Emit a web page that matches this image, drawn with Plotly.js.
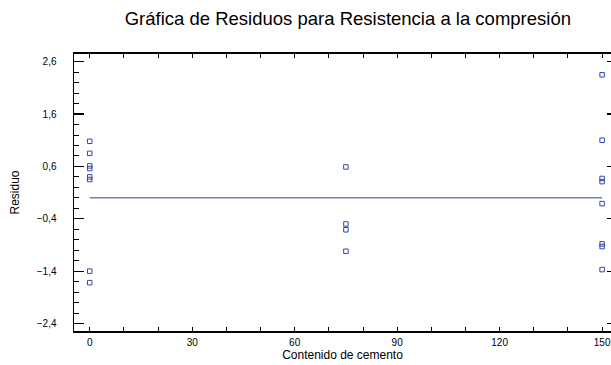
<!DOCTYPE html>
<html>
<head>
<meta charset="utf-8">
<script src="https://cdn.plot.ly/plotly-3.0.1.min.js"></script>
<style>html,body{margin:0;padding:0;background:#fff;}#chart{width:611px;height:365px;}</style>
</head>
<body>
<div id="chart"></div>
<script>
// Residuals by cement content
const cemento = [0, 0, 0, 0, 0, 0, 0, 0,
                 75, 75, 75, 75,
                 150, 150, 150, 150, 150, 150, 150, 150];
const residuos = [1.08, 0.85, 0.61, 0.56, 0.40, 0.35, -1.40, -1.62,
                  0.59, -0.50, -0.61, -1.02,
                  2.35, 1.10, 0.37, 0.31, -0.11, -0.88, -0.93, -1.37];
const lineaX = [0, 150];
const lineaY = [0, 0];

const traces = [
  {x: lineaX, y: lineaY, type: 'scatter', mode: 'lines',
   line: {color: '#6c80c4', width: 1.5}, hoverinfo: 'skip'},
  {x: cemento, y: residuos, type: 'scatter', mode: 'markers',
   marker: {symbol: 'square-open', size: 4.5, color: '#3347a8', line: {width: 1, color: '#3347a8'}}},
  {x: lineaX, y: lineaY, yaxis: 'y2', type: 'scatter', mode: 'none', hoverinfo: 'skip'}
];

const font = {family: 'Liberation Sans, Arial, sans-serif', color: '#000'};
const yRange = [-2.543, 2.747];

const layout = {
  width: 611, height: 365,
  margin: {l: 74, r: 0, t: 54, b: 34},
  paper_bgcolor: '#fff', plot_bgcolor: '#fff',
  showlegend: false,
  separators: ',.',
  font: font,
  title: {text: 'Gráfica de Residuos para Resistencia a la compresión',
          font: {family: font.family, size: 18.5, color: '#000'},
          x: 0.51, xref: 'paper', xanchor: 'center',
          y: 0.95, yref: 'container', yanchor: 'middle'},
  xaxis: {
    range: [-4.6, 152.6], tickmode: 'linear', tick0: 0, dtick: 30,
    ticks: 'inside', ticklen: 4, tickwidth: 1.2, tickcolor: '#000',
    minor: {dtick: 10, ticks: 'inside', ticklen: 3, tickwidth: 1, tickcolor: '#000'},
    showline: true, linewidth: 2, linecolor: '#000', mirror: 'allticks',
    showgrid: false, zeroline: false,
    tickfont: {family: font.family, size: 10, color: '#000'},
    ticklabelstandoff: 1,
    title: {text: 'Contenido de cemento', standoff: 1,
            font: {family: font.family, size: 12, color: '#000'}}
  },
  yaxis: {
    range: yRange, tickmode: 'linear', tick0: 0.6, dtick: 1,
    ticks: 'inside', ticklen: 10, tickwidth: 1.2, tickcolor: '#000',
    minor: {dtick: 0.2, tick0: 0.6, ticks: 'inside', ticklen: 5, tickwidth: 1, tickcolor: '#000'},
    showline: true, linewidth: 1.5, linecolor: '#000', mirror: false,
    showgrid: false, zeroline: false,
    tickformat: '.1f',
    tickfont: {family: font.family, size: 10, color: '#000'},
    ticklabelstandoff: 14,
    title: {text: 'Residuo', standoff: 14,
            font: {family: font.family, size: 12, color: '#000'}}
  },
  yaxis2: {
    range: yRange, overlaying: 'y', side: 'right',
    tickmode: 'linear', tick0: 0.6, dtick: 1,
    ticks: 'inside', ticklen: 4, tickwidth: 1.2, tickcolor: '#000',
    showticklabels: false, showline: false, showgrid: false, zeroline: false
  }
};

Plotly.newPlot('chart', traces, layout, {displayModeBar: false, staticPlot: true});
</script>
</body>
</html>
